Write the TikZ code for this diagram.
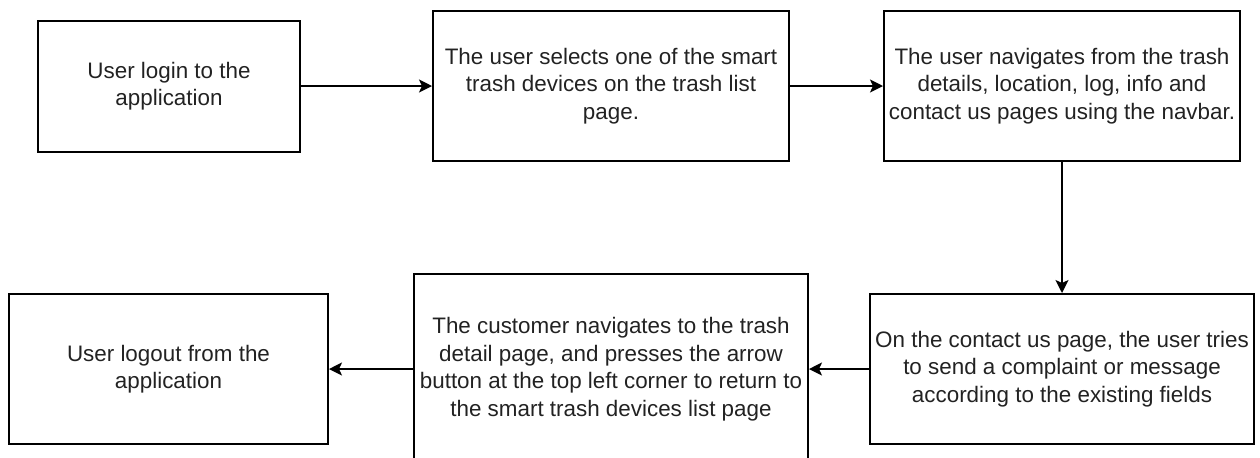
\documentclass[tikz,border=0pt]{standalone}
\usepackage{fontspec}
\setmainfont{Liberation Sans}
\usepackage{xcolor}
\usepackage{tikz}
\usetikzlibrary{arrows.meta,positioning}
\definecolor{ink}{HTML}{222222}
\tikzset{
  box/.style={draw=black, line width=1pt, align=center, inner sep=2pt, text=ink,
    font=\fontsize{11.2pt}{13.8pt}\selectfont},
  stepbox/.style={box, minimum width=178pt, minimum height=75pt},
  flow/.style={-{Stealth[length=6.5pt, width=6.5pt, inset=1.5pt]}, draw=black, line width=0.8pt},
}

\begin{document}
\begin{tikzpicture}
\useasboundingbox (0,0) rectangle (630pt,-228.5pt);
\node[box, minimum width=131pt, minimum height=65.5pt] (login) at (84.5pt,-43pt) {User login to the\\application};
\node[stepbox, right=65.5pt of login] (select) {The user selects one of the smart\\trash devices on the trash list\\page.};
\node[stepbox, right=46.5pt of select] (navbar) {The user navigates from the trash\\details, location, log, info and\\contact us pages using the navbar.};
\node[stepbox, minimum width=192pt, below=65.5pt of navbar] (contact) {On the contact us page, the user tries\\to send a complaint or message\\according to the existing fields};
\node[stepbox, minimum width=197pt, minimum height=95pt, left=30pt of contact] (detail) {The customer navigates to the trash\\detail page, and presses the arrow\\button at the top left corner to return to\\the smart trash devices list page};
\node[stepbox, minimum width=159.5pt, left=42pt of detail] (logout) {User logout from the\\application};
\draw[flow] (login) -- (select);
\draw[flow] (select) -- (navbar);
\draw[flow] (navbar) -- (contact);
\draw[flow] (contact) -- (detail);
\draw[flow] (detail) -- (logout);
\end{tikzpicture}
\end{document}
